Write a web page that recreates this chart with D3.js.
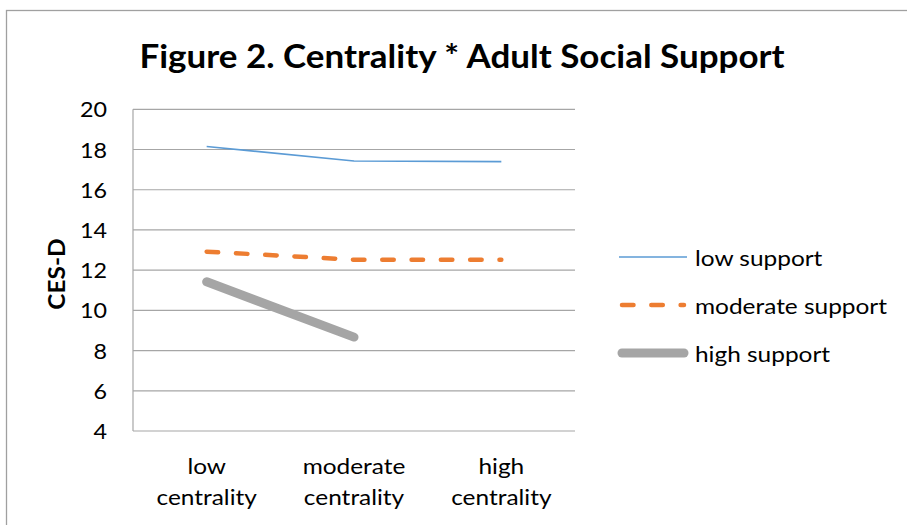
<!DOCTYPE html>
<html>
<head>
<meta charset="utf-8">
<script src="https://cdn.jsdelivr.net/npm/d3@7"></script>
<style>
  body { margin: 0; background: #fff; }
  svg { display: block; }
  text { font-family: Lato, "Open Sans", sans-serif; fill: #000; }
</style>
</head>
<body>
<svg id="chart" width="907" height="525"></svg>
<script>
// Data
const categories = ["low centrality", "moderate centrality", "high centrality"];
const categoryLines = [["low", "centrality"], ["moderate", "centrality"], ["high", "centrality"]];
const seriesNames = ["low support", "moderate support", "high support"];
const lowSupport = [18.15, 17.43, 17.40];
const moderateSupport = [12.92, 12.52, 12.52];
const highSupport = [11.42, 8.67, null];
const yTicks = [4, 6, 8, 10, 12, 14, 16, 18, 20];

const svg = d3.select("#chart");
const stretch = 1.11;           // text in this chart is set slightly wide
const plot = { left: 133, right: 575, top: 109.3, bottom: 431 };
const gridColor = "#a6a6a6";

// Chart area frame
svg.append("rect")
  .attr("x", 6.5).attr("y", 10.5)
  .attr("width", 930).attr("height", 560)
  .attr("fill", "#fff").attr("stroke", "#a0a0a0").attr("stroke-width", 1.3);

const x = d3.scaleBand().domain(categories).range([plot.left, plot.right]);
const cx = d => x(d) + x.bandwidth() / 2;
const y = d3.scaleLinear().domain([4, 20]).range([plot.bottom, plot.top]);

// helper for horizontally widened text
function wideText(g, tx, ty, str, opts = {}) {
  return g.append("text")
    .attr("transform", `translate(${tx},${ty}) scale(${opts.sx || stretch},1)`)
    .attr("text-anchor", opts.anchor || "middle")
    .attr("dominant-baseline", opts.baseline || "alphabetic")
    .style("font-size", (opts.size || 22) + "px")
    .style("font-weight", opts.weight || "normal")
    .text(str);
}

// Title
wideText(svg, 462, 67.5, "Figure 2. Centrality * Adult Social Support", { size: 33, weight: "bold", sx: 1.06 });

// Gridlines
svg.append("g").selectAll("line").data(yTicks).join("line")
  .attr("x1", plot.left).attr("x2", plot.right)
  .attr("y1", d => y(d)).attr("y2", d => y(d))
  .attr("stroke", gridColor).attr("stroke-width", 1.2);

// Left axis line
svg.append("line")
  .attr("x1", plot.left).attr("x2", plot.left)
  .attr("y1", plot.top).attr("y2", plot.bottom)
  .attr("stroke", gridColor).attr("stroke-width", 1.2);

// Y tick labels
const yAxisG = svg.append("g");
yTicks.forEach(t => wideText(yAxisG, 107, y(t), String(t), { anchor: "end", baseline: "central", size: 21 }));

// Y axis title
svg.append("text")
  .attr("transform", `translate(64.5,274) rotate(-90) scale(${stretch},1)`)
  .attr("text-anchor", "middle")
  .style("font-size", "22px").style("font-weight", "bold")
  .text("CES-D");

// Category labels
const xAxisG = svg.append("g");
categories.forEach((c, i) => {
  wideText(xAxisG, cx(c), 474, categoryLines[i][0]);
  wideText(xAxisG, cx(c), 504.5, categoryLines[i][1]);
});

// Series
const series = [
  { name: seriesNames[0], values: lowSupport, color: "#5b9bd5", width: 1.6, dash: null, cap: "butt" },
  { name: seriesNames[1], values: moderateSupport, color: "#ed7d31", width: 4.5, dash: "11.5 17.8", cap: "round" },
  { name: seriesNames[2], values: highSupport, color: "#a5a5a5", width: 9, dash: null, cap: "round" }
];

const line = d3.line()
  .defined(d => d.v != null)
  .x(d => cx(d.c))
  .y(d => y(d.v));

svg.append("g").selectAll("path").data(series.slice().reverse()).join("path")
  .attr("d", s => line(s.values.map((v, i) => ({ c: categories[i], v }))))
  .attr("fill", "none")
  .attr("stroke", s => s.color)
  .attr("stroke-width", s => s.width)
  .attr("stroke-dasharray", s => s.dash)
  .attr("stroke-linecap", s => s.cap)
  .attr("stroke-linejoin", "round");

// Legend
const legendY = d3.scalePoint().domain(seriesNames).range([257, 353]);
const legend = svg.append("g");
series.forEach(s => {
  const ly = legendY(s.name);
  legend.append("line")
    .attr("x1", s.cap === "round" ? 622 : 619).attr("x2", s.cap === "round" ? 684 : 687)
    .attr("y1", ly).attr("y2", ly)
    .attr("stroke", s.color).attr("stroke-width", s.width)
    .attr("stroke-dasharray", s.dash)
    .attr("stroke-linecap", s.cap);
  wideText(legend, 695, ly, s.name, { anchor: "start", baseline: "central" });
});
</script>
</body>
</html>
